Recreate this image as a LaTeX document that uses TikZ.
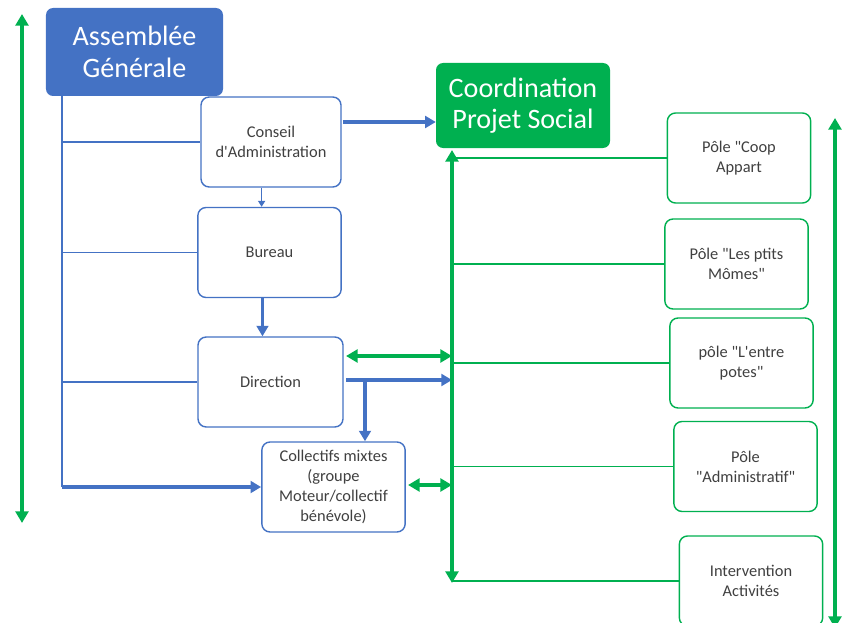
\documentclass[tikz,border=0pt]{standalone}
\usepackage{fontspec}
\setmainfont{Carlito}[Ligatures=TeXOff]
\usetikzlibrary{arrows.meta,calc}
\definecolor{orgblue}{HTML}{4472C4}
\definecolor{orggreen}{HTML}{00B050}
\tikzset{
  headbox/.style={rounded corners=6pt, text=white, align=center, inner sep=0pt,
    font=\fontsize{24}{27}\selectfont},
  unitbox/.style={draw, line width=1.2pt, rounded corners=7pt, fill=white, align=center,
    text=black!75, inner sep=2pt, minimum width=4.3cm, minimum height=2.7cm,
    font=\fontsize{14}{17}\selectfont},
  bluebox/.style={unitbox, draw=orgblue},
  greenbox/.style={unitbox, draw=orggreen},
  thinblue/.style={orgblue, line width=1.4pt},
  thickblue/.style={orgblue, line width=3pt, -{Triangle[length=9pt,width=10pt]}},
  thingreen/.style={orggreen, line width=1.4pt},
  thickgreen/.style={orggreen, line width=3pt,
    {Triangle[length=10pt,width=11pt]}-{Triangle[length=10pt,width=11pt]}},
}
\begin{document}
\begin{tikzpicture}[x=0.03cm, y=-0.03cm]
    \clip (0,0) rectangle (843,623);
    % boxes
    \node[headbox, fill=orgblue, minimum width=5.31cm, minimum height=2.64cm] (ag) at (134.5,52) {Assemblée\\Générale};
    \node[headbox, fill=orggreen, minimum width=5.22cm, minimum height=2.55cm] (coord) at (523,105.5) {Coordination\\Projet Social};
    \node[bluebox, minimum width=4.2cm] (conseil) at (271,142) {Conseil\\d'Administration};
    \node[bluebox] (bureau) at (269.5,252.5) {Bureau};
    \node[bluebox, minimum width=4.35cm] (direction) at (270.5,382) {Direction};
    \node[bluebox] (collectifs) at (333.5,487) {Collectifs mixtes\\(groupe\\Moteur/collectif\\bénévole)};
    \node[greenbox] (coop) at (739,158) {Pôle "Coop\\Appart};
    \node[greenbox] (momes) at (736.5,264) {Pôle "Les ptits\\Mômes"};
    \node[greenbox] (entre) at (741.5,363) {pôle "L'entre\\potes"};
    \node[greenbox] (admin) at (745.5,466.5) {Pôle\\"Administratif"};
    \node[greenbox] (interv) at (751,581) {Intervention\\Activités};
    % free ends
    \coordinate (lefttop) at (22,14);
    \coordinate (leftbot) at (22,523);
    \coordinate (righttop) at (835,118);
    \coordinate (rightbot) at (835,628);
    \coordinate (trunk) at (62,96);
    \coordinate (gtop) at (452,150);
    \coordinate (gbot) at (452,583);
    \coordinate (ca) at (343,122);
    \coordinate (dup) at (346,356);
    \coordinate (dout) at (346,380);
    \coordinate (dbranch) at (365,380);
    \coordinate (cout) at (408,485);
    % blue side
    \draw[thinblue] (trunk) -- (trunk |- collectifs.west);
    \draw[thinblue] (trunk |- conseil.west) -- (conseil.west);
    \draw[thinblue] (trunk |- bureau.west) -- (bureau.west);
    \draw[thinblue] (trunk |- direction.west) -- (direction.west);
    \draw[thickblue] (trunk |- collectifs.west) -- (collectifs.west);
    \draw[thinblue, line width=1.1pt, -{Triangle[length=5pt,width=6pt]}] ([xshift=-8]conseil.south) -- ([xshift=-8]conseil.south |- bureau.north);
    \draw[thickblue] ([xshift=-6]bureau.south) -- ([xshift=-6]bureau.south |- direction.north);
    \draw[thickblue] (ca) -- (ca -| coord.west);
    \draw[thickblue] (dout) -- (dout -| gtop);
    \draw[thickblue] (dbranch) -- (dbranch |- collectifs.north);
    % green side
    \draw[thickgreen] (lefttop) -- (leftbot);
    \draw[thickgreen] (righttop) -- (rightbot);
    \draw[thingreen] (gtop |- coop.west) -- (coop.west);
    \draw[thingreen] (gtop |- momes.west) -- (momes.west);
    \draw[thingreen] (gtop |- entre.west) -- (entre.west);
    \draw[thingreen] (gtop |- admin.west) -- (admin.west);
    \draw[thingreen] (gtop |- interv.west) -- (interv.west);
    \draw[thickgreen] (gtop) -- (gbot);
    \draw[thickgreen] (dup) -- (dup -| gtop);
    \draw[thickgreen] (cout) -- (cout -| gtop);
\end{tikzpicture}
\end{document}
